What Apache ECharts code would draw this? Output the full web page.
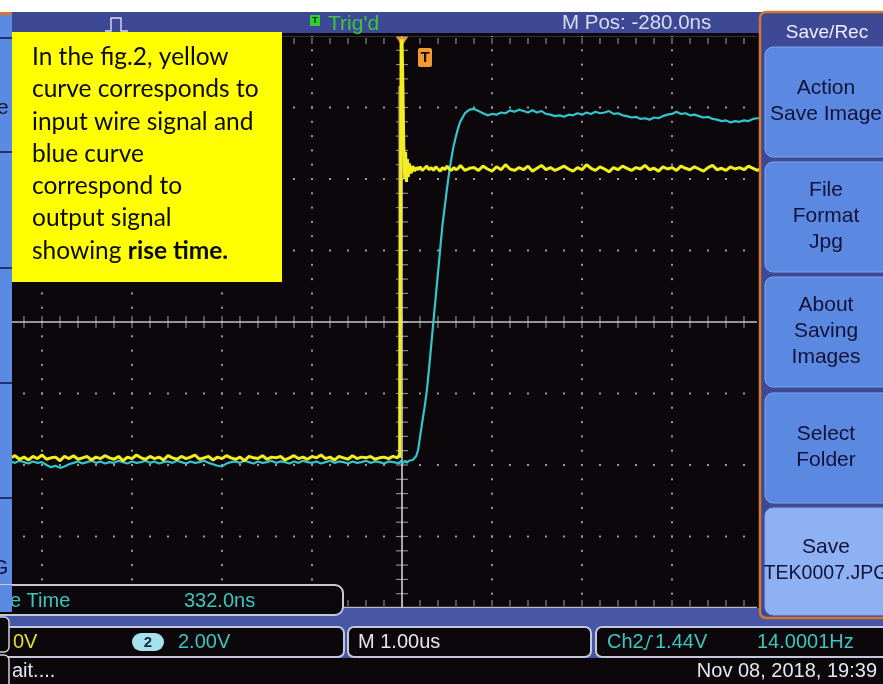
<!DOCTYPE html>
<html>
<head>
<meta charset="utf-8">
<title>Rise time capture</title>
<script src="https://cdn.jsdelivr.net/npm/echarts@6.0.0/dist/echarts.min.js"></script>
<style>
  html, body { margin: 0; padding: 0; background: #ffffff; }
  #scope { width: 883px; height: 684px; }
</style>
</head>
<body>
<div id="scope"></div>
<script>
// ---- Acquisition record (time in µs, level in vertical divisions) ----
// Pre-trigger baseline
const baselineTimes = [
  -4.35,-4.30,-4.25,-4.20,-4.15,-4.10,-4.05,-4.00,-3.95,-3.90,
  -3.85,-3.80,-3.75,-3.70,-3.65,-3.60,-3.55,-3.50,-3.45,-3.40,
  -3.35,-3.30,-3.25,-3.20,-3.15,-3.10,-3.05,-3.00,-2.95,-2.90,
  -2.85,-2.80,-2.75,-2.70,-2.65,-2.60,-2.55,-2.50,-2.45,-2.40,
  -2.35,-2.30,-2.25,-2.20,-2.15,-2.10,-2.05,-2.00,-1.95,-1.90,
  -1.85,-1.80,-1.75,-1.70,-1.65,-1.60,-1.55,-1.50,-1.45,-1.40,
  -1.35,-1.30,-1.25,-1.20,-1.15,-1.10,-1.05,-1.00,-0.95,-0.90,
  -0.85,-0.80,-0.75,-0.70,-0.65,-0.60,-0.55,-0.50,-0.45,-0.40,
  -0.35,-0.30,-0.25,-0.20,-0.15,-0.10,-0.05
];
const ch1Baseline = [
  -1.90,-1.87,-1.92,-1.89,-1.93,-1.88,-1.91,-1.86,-1.92,-1.90,
  -1.89,-1.94,-1.88,-1.91,-1.87,-1.92,-1.90,-1.88,-1.93,-1.89,
  -1.91,-1.87,-1.90,-1.92,-1.88,-1.94,-1.89,-1.91,-1.86,-1.90,
  -1.92,-1.88,-1.91,-1.89,-1.93,-1.87,-1.90,-1.92,-1.88,-1.91,
  -1.89,-1.86,-1.92,-1.90,-1.88,-1.93,-1.89,-1.91,-1.87,-1.90,
  -1.92,-1.89,-1.94,-1.88,-1.90,-1.91,-1.87,-1.92,-1.89,-1.90,
  -1.88,-1.93,-1.90,-1.87,-1.91,-1.89,-1.92,-1.88,-1.90,-1.86,
  -1.91,-1.89,-1.93,-1.88,-1.90,-1.92,-1.87,-1.91,-1.89,-1.90,
  -1.88,-1.92,-1.90,-1.89,-1.91,-1.88,-1.90
];
const ch2Baseline = [
  -1.95,-1.97,-1.94,-1.96,-1.98,-1.95,-1.97,-1.96,-2.00,-2.03,
  -2.01,-2.04,-2.02,-1.99,-1.97,-1.95,-1.98,-1.96,-1.94,-1.97,
  -1.95,-1.98,-1.96,-1.97,-1.94,-1.96,-1.98,-1.95,-1.97,-1.96,
  -1.94,-1.97,-1.95,-1.98,-1.96,-1.95,-1.97,-1.94,-1.96,-1.98,
  -1.95,-1.97,-1.96,-1.94,-1.97,-1.99,-2.01,-2.02,-1.98,-1.96,
  -1.95,-1.97,-1.94,-1.96,-1.98,-1.95,-1.97,-1.96,-1.94,-1.97,
  -1.95,-1.96,-1.98,-1.95,-1.97,-1.94,-1.96,-1.97,-1.95,-1.98,
  -1.96,-1.94,-1.97,-1.95,-1.96,-1.98,-1.95,-1.97,-1.96,-1.94,
  -1.97,-1.95,-1.96,-1.98,-1.95,-1.96,-1.97
];

// Edge region, sampled finer
const edgeTimes = [
  -0.04,-0.03,-0.025,-0.02,-0.01,0.00,0.01,0.02,0.03,0.04,
  0.05,0.06,0.07,0.08,0.10,0.12,0.14,0.16,0.18,0.20,
  0.225,0.25,0.275,0.30,0.325,0.35,0.375,0.40,0.425,0.45,
  0.475,0.50,0.525,0.55,0.575,0.60,0.625,0.65,0.70,0.75
];
const ch1Edge = [
  -1.89,-1.86,-1.90,-1.88,3.92,3.95,3.30,2.45,2.00,2.38,
  1.96,2.28,2.03,2.22,2.08,2.18,2.11,2.16,2.13,2.17,
  2.12,2.15,2.18,2.13,2.16,2.12,2.17,2.14,2.11,2.16,
  2.13,2.18,2.14,2.12,2.16,2.13,2.15,2.19,2.12,2.15
];
const ch2Edge = [
  -1.96,-1.95,-1.97,-1.96,-1.94,-1.96,-1.97,-1.95,-1.96,-1.94,
  -1.97,-1.95,-1.96,-1.94,-1.95,-1.93,-1.91,-1.87,-1.78,-1.61,
  -1.40,-1.20,-0.97,-0.66,-0.32,0.02,0.35,0.69,1.03,1.36,
  1.61,1.87,2.10,2.30,2.47,2.60,2.72,2.81,2.92,2.97
];

// Settled levels after the step
const settledTimes = [
  0.80,0.85,0.90,0.95,1.00,1.05,1.10,1.15,1.20,1.25,
  1.30,1.35,1.40,1.45,1.50,1.55,1.60,1.65,1.70,1.75,
  1.80,1.85,1.90,1.95,2.00,2.05,2.10,2.15,2.20,2.25,
  2.30,2.35,2.40,2.45,2.50,2.55,2.60,2.65,2.70,2.75,
  2.80,2.85,2.90,2.95,3.00,3.05,3.10,3.15,3.20,3.25,
  3.30,3.35,3.40,3.45,3.50,3.55,3.60,3.65,3.70,3.75,
  3.80,3.85,3.90,3.95,4.00
];
const ch1Settled = [
  2.16,2.12,2.18,2.14,2.11,2.17,2.13,2.20,2.14,2.12,
  2.16,2.13,2.18,2.11,2.15,2.19,2.13,2.16,2.12,2.15,
  2.18,2.14,2.11,2.16,2.13,2.20,2.15,2.12,2.17,2.14,
  2.10,2.16,2.13,2.18,2.15,2.12,2.16,2.14,2.19,2.13,
  2.15,2.11,2.17,2.14,2.16,2.12,2.18,2.15,2.13,2.17,
  2.14,2.11,2.16,2.19,2.13,2.15,2.12,2.17,2.14,2.16,
  2.13,2.18,2.15,2.12,2.16
];
const ch2Settled = [
  2.98,2.95,2.92,2.89,2.91,2.90,2.93,2.92,2.96,2.94,
  2.97,2.95,2.93,2.96,2.93,2.95,2.91,2.90,2.88,2.89,
  2.87,2.90,2.89,2.92,2.90,2.93,2.91,2.94,2.92,2.93,
  2.95,2.91,2.92,2.89,2.88,2.86,2.87,2.84,2.85,2.83,
  2.86,2.85,2.88,2.90,2.91,2.94,2.91,2.92,2.89,2.90,
  2.88,2.86,2.87,2.84,2.83,2.81,2.82,2.79,2.81,2.80,
  2.82,2.81,2.84,2.85,2.85
];

// Dim persistence of the CH1 edge
const ch1Afterglow = [[-0.03, -1.88], [-0.03, 3.30]];

// Graticule: major divisions (centre lines are drawn as the cursor cross)
const gridTimes = [-4, -3, -2, -1, 1, 2, 3];
const gridLevels = [-3, -2, -1, 1, 2, 3];
const timeExtent = [-4.3333, 3.9778];   // visible window, µs
const levelExtent = [-4, 4];            // 8 vertical divisions

// Readouts
const annotationLines = ['In the fig.2, yellow', 'curve corresponds to', 'input wire signal and',
  'blue curve', 'correspond to', 'output signal'];
const annotationLast = ['showing ', 'rise time.'];
const menuTitle = 'Save/Rec';
const menuButtons = [
  ['Action', 'Save Image'],
  ['File', 'Format', 'Jpg'],
  ['About', 'Saving', 'Images'],
  ['Select', 'Folder'],
  ['Save', 'TEK0007.JPG']
];
const measureName = 'Rise Time';
const measureValue = '332.0ns';
const ch1Scale = '0V';
const ch2Scale = '2.00V';
const timebase = 'M 1.00us';
const triggerSource = 'Ch2';
const triggerLevel = '1.44V';
const triggerFreq = '14.0001Hz';
const timestamp = 'Nov 08, 2018, 19:39';
const statusText = "Trig'd";
const positionText = 'M Pos: -280.0ns';
const busyText = 'ait....';

function pairs(ts, vs) { return ts.map((t, i) => [t, vs[i]]); }
const ch1Trace = pairs(baselineTimes, ch1Baseline).concat(pairs(edgeTimes, ch1Edge), pairs(settledTimes, ch1Settled));
const ch2Trace = pairs(baselineTimes, ch2Baseline).concat(pairs(edgeTimes, ch2Edge), pairs(settledTimes, ch2Settled));

const UI = "'Liberation Sans', Arial, sans-serif";
const SCREEN = '#0b070a';
const CYAN_TXT = '#3cc6bf';

function renderGraticule(params, api) {
  const kids = [];
  const dotStyle = { fill: '#9a9a9e' };
  const tickStyle = { stroke: '#8a8a8e', lineWidth: 1.2 };
  const dot = (x, y) => kids.push({ type: 'rect', shape: { x: x - 1, y: y - 1, width: 2, height: 2 }, style: dotStyle });
  const tick = (x1, y1, x2, y2) => kids.push({ type: 'line', shape: { x1, y1, x2, y2 }, style: tickStyle });

  gridTimes.forEach(t => { for (let k = -20; k <= 20; k++) { const p = api.coord([t, k / 5]); dot(p[0], p[1]); } });
  gridLevels.forEach(v => { for (let k = -21; k <= 19; k++) { const p = api.coord([k / 5, v]); dot(p[0], p[1]); } });

  for (let k = -21; k <= 19; k++) {
    const c = api.coord([k / 5, 0]); tick(c[0], c[1] - 6, c[0], c[1] + 6);
    const tp = api.coord([k / 5, levelExtent[1]]); tick(tp[0], tp[1] + 2, tp[0], tp[1] + 8);
    const bt = api.coord([k / 5, levelExtent[0]]); tick(bt[0], bt[1] - 8, bt[0], bt[1] - 2);
  }
  for (let k = -20; k <= 20; k++) { const c = api.coord([0, k / 5]); tick(c[0] - 6, c[1], c[0] + 6, c[1]); }

  // screen top / bottom edges
  const tl = api.coord([timeExtent[0], levelExtent[1]]), tr = api.coord([timeExtent[1], levelExtent[1]]);
  const bl = api.coord([timeExtent[0], levelExtent[0]]), br = api.coord([timeExtent[1], levelExtent[0]]);
  kids.push({ type: 'line', shape: { x1: tl[0], y1: tl[1] - 0.5, x2: tr[0] - 3, y2: tr[1] - 0.5 }, style: { stroke: '#a8a8b8', lineWidth: 1.5 } });
  kids.push({ type: 'line', shape: { x1: bl[0], y1: bl[1] - 0.5, x2: br[0] - 3, y2: br[1] - 0.5 }, style: { stroke: '#b8b8c8', lineWidth: 1.5 } });

  // cursor cross
  const l = api.coord([timeExtent[0], 0]), r = api.coord([timeExtent[1], 0]);
  kids.push({ type: 'line', shape: { x1: l[0], y1: l[1], x2: r[0] - 3, y2: r[1] }, style: { stroke: '#c6c6c6', lineWidth: 1.6 } });
  const top = api.coord([0, levelExtent[1]]), bot = api.coord([0, levelExtent[0]]);
  kids.push({ type: 'line', shape: { x1: top[0], y1: top[1], x2: bot[0], y2: bot[1] }, style: { stroke: '#cfcfcf', lineWidth: 1.6 } });

  // trigger position marker
  kids.push({ type: 'polygon', shape: { points: [[top[0] - 6, top[1] + 1], [top[0] + 6, top[1] + 1], [top[0], top[1] + 10]] }, style: { fill: '#f0982c' } });
  return { type: 'group', children: kids };
}

// ---- Instrument chrome ----
const graphics = [];
const rect = (x, y, w, h, fill, extra) => graphics.push(Object.assign({ type: 'rect', z: 100, shape: { x, y, width: w, height: h, r: (extra && extra.r) || 0 }, style: Object.assign({ fill }, (extra && extra.style) || {}) }, extra && extra.z ? { z: extra.z } : {}));
const text = (x, y, str, color, size, extra) => graphics.push({
  type: 'text', z: (extra && extra.z) || 110, x, y,
  style: Object.assign({ text: str, fill: color, font: `${size}px ${UI}`, verticalAlign: 'middle', align: 'left' }, (extra && extra.style) || {})
});

// top status bar
rect(0, 12, 770, 21, '#3e4996');
rect(12, 33, 748, 3, SCREEN);
graphics.push({ type: 'polyline', z: 110, shape: { points: [[105, 31], [111, 31], [111, 18], [121, 18], [121, 31], [128, 31]] }, style: { stroke: '#dcdcf4', lineWidth: 1.4, fill: null } });
rect(310, 15, 10, 11, '#2fd02f', { z: 110 });
text(315, 20.5, 'T', '#0a2a0a', 9, { style: { align: 'center', font: `bold 9px ${UI}` } });
text(328, 24, statusText, '#3cc63c', 21);
text(562, 23, positionText, '#dcdcf0', 20.5);

// left soft-key strip
rect(0, 12, 12, 600, '#5a8ae2');
rect(0, 12, 12, 3, '#d5782c');
[37, 151, 267, 382, 497].forEach(y => rect(0, y, 12, 2, '#26306a'));
text(-3, 108, 'e', '#101038', 21);
text(-8, 568, 'G', '#101038', 21);

// bottom bars
rect(0, 608, 883, 50, '#4757a6');
rect(0, 658, 883, 26, SCREEN);
rect(-20, 585, 363, 30, SCREEN, { r: 8, style: { stroke: '#c8c8d4', lineWidth: 2 }, z: 104 });
text(-19, 601, measureName, CYAN_TXT, 20, { z: 106 });
text(184, 601, measureValue, CYAN_TXT, 20, { z: 106 });
rect(0, 585, 12, 27, '#5a8ae2', { z: 107 });
rect(-20, 627, 364, 30, SCREEN, { r: 6, style: { stroke: '#c4c8dc', lineWidth: 2 } });
rect(348, 627, 243, 30, SCREEN, { r: 6, style: { stroke: '#c4c8dc', lineWidth: 2 } });
rect(596, 627, 300, 30, SCREEN, { r: 6, style: { stroke: '#c4c8dc', lineWidth: 2 } });
rect(-12, 617, 21, 35, SCREEN, { r: 5, style: { stroke: '#d0d0e0', lineWidth: 1.5 }, z: 108 });
rect(-12, 655, 21, 40, SCREEN, { r: 5, style: { stroke: '#d0d0e0', lineWidth: 1.5 }, z: 108 });
text(13, 642, ch1Scale, '#e6de3a', 20);
rect(132, 633, 32, 18, '#a6e2ee', { r: 9, z: 106 });
text(148, 642.5, '2', '#18283c', 15, { style: { align: 'center', font: `bold 15px ${UI}` } });
text(178, 642, ch2Scale, CYAN_TXT, 20);
text(358, 642, timebase, '#e6e6f0', 20);
text(607, 642, triggerSource, CYAN_TXT, 20);
graphics.push({ type: 'polyline', z: 110, shape: { points: [[643, 649], [646, 649], [650, 636], [653, 636]] }, style: { stroke: CYAN_TXT, lineWidth: 1.4, fill: null } });
text(655, 642, triggerLevel, CYAN_TXT, 20);
text(757, 642, triggerFreq, CYAN_TXT, 20);
text(12, 671, busyText, '#e6e6f0', 20);
text(877, 671, timestamp, '#e6e6f0', 20, { style: { align: 'right' } });

// right-hand menu
rect(760, 12, 130, 606, '#3d4995', { r: 6, style: { stroke: '#d5782c', lineWidth: 2.5 } });
text(827, 33, menuTitle, '#eeeeff', 19, { style: { align: 'center' } });
const buttonTops = [47, 162, 277, 393, 508];
const buttonHeights = [110, 110, 110, 110, 107];
menuButtons.forEach((lines, i) => {
  const fill = i === 4 ? '#8db1f3' : '#5b88e0';
  rect(765, buttonTops[i], 130, buttonHeights[i], fill, { r: 8, style: { stroke: '#7fa6ee', lineWidth: 1 }, z: 102 });
  const cy = buttonTops[i] + buttonHeights[i] / 2 - 1;
  lines.forEach((s, j) => {
    const size = s.length > 10 ? 19.5 : 21;
    text(826, cy + (j - (lines.length - 1) / 2) * 26, s, '#121238', size, { style: { align: 'center' } });
  });
});

// trigger indicator badge
rect(418, 48, 14, 19, '#f09a30', { r: 2, z: 106 });
text(425, 58, 'T', '#1a0a00', 15, { style: { align: 'center', font: `bold 15px ${UI}` } });

// annotation card
rect(12, 32, 270, 250, '#ffff00', { z: 120 });
const NOTE_FONT = "Lato, 'Open Sans', sans-serif";
const NOTE_SIZE = 24.5;
annotationLines.forEach((s, i) => {
  graphics.push({ type: 'text', z: 121, x: 32, y: 57 + i * 32.3, style: { text: s, fill: '#0a0a0a', font: `${NOTE_SIZE}px ${NOTE_FONT}`, verticalAlign: 'middle' } });
});
graphics.push({
  type: 'text', z: 121, x: 32, y: 57 + 6 * 32.3,
  style: {
    text: `{n|${annotationLast[0]}}{b|${annotationLast[1]}}`, verticalAlign: 'middle',
    rich: {
      n: { fill: '#0a0a0a', font: `${NOTE_SIZE}px ${NOTE_FONT}` },
      b: { fill: '#0a0a0a', font: `bold ${NOTE_SIZE}px ${NOTE_FONT}` }
    }
  }
});

const chart = echarts.init(document.getElementById('scope'), null, { renderer: 'canvas' });
chart.setOption({
  animation: false,
  backgroundColor: '#ffffff',
  grid: { left: 12, right: 123, top: 36, bottom: 76, show: true, backgroundColor: SCREEN, borderWidth: 0 },
  xAxis: { type: 'value', min: timeExtent[0], max: timeExtent[1], show: false },
  yAxis: { type: 'value', min: levelExtent[0], max: levelExtent[1], show: false },
  graphic: graphics,
  series: [
    { type: 'custom', name: 'graticule', coordinateSystem: 'cartesian2d', data: [[0, 0]], renderItem: renderGraticule, silent: true, z: 1 },
    { type: 'line', name: 'CH1 persistence', data: ch1Afterglow, showSymbol: false, lineStyle: { color: '#a69a5c', width: 2 }, z: 2, silent: true },
    { type: 'line', name: 'CH2', data: ch2Trace, showSymbol: false, lineStyle: { color: '#34c4cc', width: 2.2 }, z: 3, silent: true },
    { type: 'line', name: 'CH1', data: ch1Trace, showSymbol: false, lineStyle: { color: '#f3ef1e', width: 3 }, z: 4, silent: true }
  ]
});
</script>
</body>
</html>
